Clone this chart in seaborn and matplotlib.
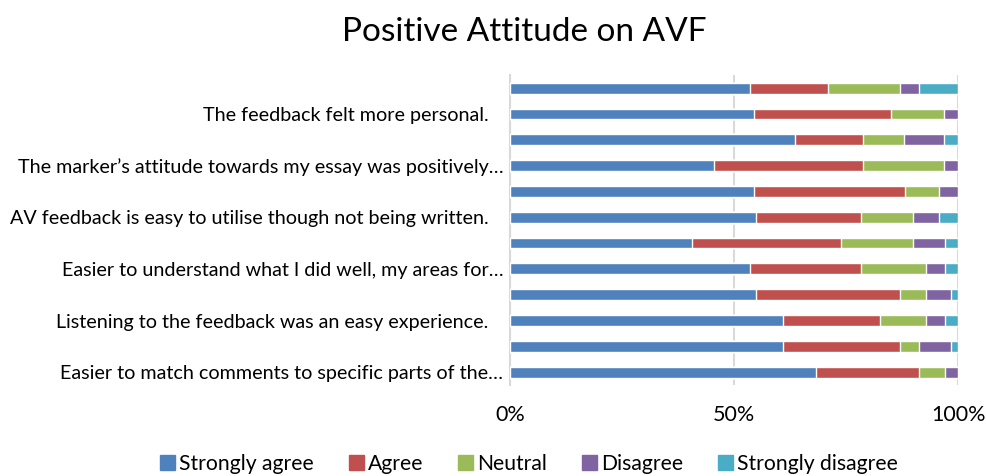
import numpy as np
import pandas as pd
import matplotlib
matplotlib.use("Agg")
import matplotlib.pyplot as plt
import seaborn as sns
from matplotlib.patches import Patch

# bars listed top to bottom; Excel only shows every second label
labels = [
    "",
    "The feedback felt more personal.   ",
    "",
    "The marker\u2019s attitude towards my essay was positively\u2026",
    "",
    "AV feedback is easy to utilise though not being written.   ",
    "",
    "Easier to understand what I did well, my areas for\u2026",
    "",
    "Listening to the feedback was an easy experience.   ",
    "",
    "Easier to match comments to specific parts of the\u2026",
]
series = ["Strongly agree", "Agree", "Neutral", "Disagree", "Strongly disagree"]
colors = ["#4F81BD", "#C0504D", "#9BBB59", "#8064A2", "#4BACC6"]

strongly_agree    = [53.4, 54.5, 63.6, 45.4, 54.3, 54.9, 40.5, 53.4, 54.9, 60.8, 60.8, 68.2]
agree             = [17.6, 30.4, 15.1, 33.3, 33.8, 23.3, 33.3, 24.8, 32.0, 21.8, 26.1, 23.1]
neutral           = [15.9, 12.0,  9.2, 18.2,  7.5, 11.7, 16.1, 14.6,  5.9, 10.2,  4.4,  5.8]
disagree          = [ 4.4,  3.1,  8.9,  3.1,  4.4,  5.7,  7.1,  4.2,  5.6,  4.2,  7.1,  2.9]
strongly_disagree = [ 8.7,  0.0,  3.2,  0.0,  0.0,  4.4,  3.0,  3.0,  1.6,  3.0,  1.6,  0.0]

values = np.array([strongly_agree, agree, neutral, disagree, strongly_disagree])
values = values / values.sum(axis=0) * 100
cum = values.cumsum(axis=0)

keys = [f"q{i}" for i in range(len(labels))]

sns.set_style("white")
plt.rcParams["font.family"] = ["Lato", "DejaVu Sans"]
plt.rcParams["text.color"] = "black"
plt.rcParams["xtick.color"] = "black"
plt.rcParams["ytick.color"] = "black"

fig = plt.figure(figsize=(9.87, 4.76), dpi=100)
ax = fig.add_axes([0.517, 0.191, 0.454, 0.651])

# draw cumulative totals from the last series back to the first
for i in range(len(series) - 1, -1, -1):
    df = pd.DataFrame({"item": keys, "total": cum[i]})
    sns.barplot(data=df, x="total", y="item", color=colors[i], orient="h",
                width=0.42, saturation=1, ax=ax, zorder=3)

ax.set_xlim(0, 100)
ax.set_xticks([0, 50, 100])
ax.set_xticklabels(["0%", "50%", "100%"], fontsize=15.5)
ax.set_yticks(range(len(labels)))
ax.set_yticklabels(labels, fontsize=14.2)
ax.set_xlabel("")
ax.set_ylabel("")
ax.tick_params(axis="both", length=0, pad=5)
ax.tick_params(axis="x", pad=14)
ax.grid(axis="x", color="#D9D9D9", linewidth=1.5, zorder=0)
for s in ["top", "right", "bottom"]:
    ax.spines[s].set_visible(False)
ax.spines["left"].set_color("#D9D9D9")
ax.spines["left"].set_linewidth(1.5)
ax.set_ylim(len(labels) - 0.5, -0.5)

fig.suptitle("Positive Attitude on AVF", fontsize=24, x=0.531, y=0.965)

handles = [Patch(color=c, label=s) for s, c in zip(series, colors)]
fig.legend(handles=handles, loc="lower center", ncol=5, frameon=False,
           fontsize=15.2, bbox_to_anchor=(0.536, -0.035), handlelength=0.7,
           handleheight=0.7, handletextpad=0.2, columnspacing=1.65)

plt.savefig("out.png", dpi=100)
